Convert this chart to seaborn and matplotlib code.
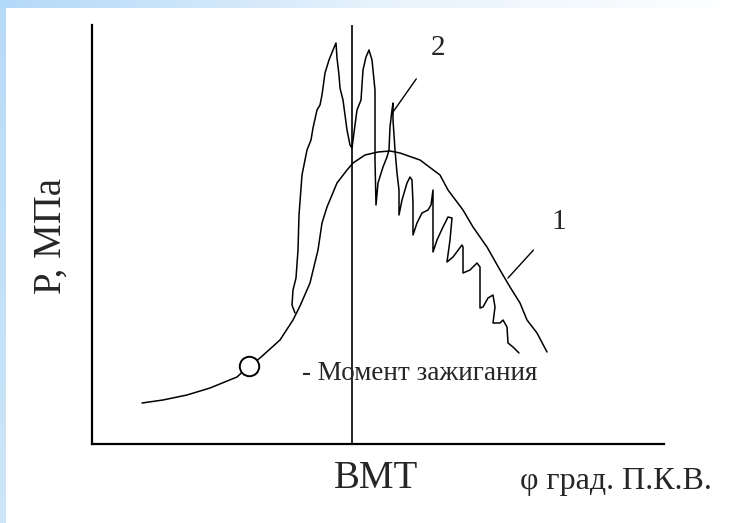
import matplotlib
matplotlib.use('Agg')
import matplotlib.pyplot as plt
import seaborn as sns
import numpy as np
import pandas as pd

# crank angle, deg from BMT / pressure, MPa
# curve 1 - normal combustion
angle_1 = [-42.0, -37.8, -33.0, -28.4, -23.0, -20.6, -18.4, -14.4, -11.8, -10.4,
           -8.4, -6.8, -6.0, -5.0, -3.0, -1.0, 0.2, 2.6, 5.2, 7.6,
           9.6, 13.6, 17.6, 19.2, 22.2, 24.2, 27.0, 29.6, 31.6, 33.6,
           35.0, 37.0, 39.0]
press_1 = [0.82, 0.88, 0.98, 1.12, 1.34, 1.56, 1.72, 2.08, 2.48, 2.76,
           3.22, 3.88, 4.42, 4.74, 5.22, 5.48, 5.62, 5.78, 5.84, 5.86,
           5.82, 5.68, 5.38, 5.08, 4.68, 4.34, 3.94, 3.48, 3.14, 2.82,
           2.48, 2.22, 1.84]

# curve 2 - detonation
angle_2 = [-11.4, -12.0, -11.8, -11.2, -10.8, -10.6, -10.0, -9.0, -8.2, -7.8,
           -7.0, -6.4, -6.0, -5.4, -4.6, -3.8, -3.2, -3.0, -2.6, -2.4,
           -1.8, -1.4, -1.0, -0.4, 0.0, 0.6, 1.0, 1.8, 2.0, 2.2,
           2.8, 3.4, 4.0, 4.6, 4.6, 4.6, 4.8, 5.2, 6.2, 7.0,
           7.4, 7.6, 8.0, 8.2, 8.2, 8.6, 9.0, 9.4, 9.4, 10.0,
           11.0, 11.6, 12.0, 12.2, 12.2, 13.0, 14.0, 15.2, 15.8, 16.2,
           16.2, 16.2, 17.0, 18.2, 19.2, 20.0, 19.6, 19.0, 20.2, 22.0,
           22.2, 22.2, 23.6, 25.0, 25.6, 25.6, 26.2, 27.2, 28.2, 28.6,
           28.2, 29.6, 30.2, 31.0, 31.2, 32.2, 33.4]
press_2 = [2.62, 2.78, 3.08, 3.32, 3.88, 4.58, 5.38, 5.88, 6.08, 6.32,
           6.68, 6.78, 6.98, 7.42, 7.68, 7.88, 8.02, 7.72, 7.38, 7.12,
           6.88, 6.58, 6.28, 5.98, 5.92, 6.38, 6.68, 6.88, 7.18, 7.48,
           7.74, 7.88, 7.68, 7.08, 6.28, 5.68, 4.78, 5.22, 5.54, 5.74,
           5.88, 6.34, 6.68, 6.82, 6.48, 5.88, 5.42, 5.08, 4.58, 4.88,
           5.22, 5.34, 5.28, 4.82, 4.18, 4.42, 4.62, 4.68, 4.78, 5.08,
           4.48, 3.84, 4.08, 4.34, 4.54, 4.52, 4.08, 3.64, 3.74, 3.98,
           3.94, 3.42, 3.48, 3.62, 3.54, 2.72, 2.74, 2.92, 2.98, 2.74,
           2.42, 2.42, 2.48, 2.34, 2.02, 1.94, 1.82]

ignition = (-20.6, 1.56)

sns.set_style("white")
plt.rcParams['font.family'] = ['Liberation Serif', 'DejaVu Serif']

fig = plt.figure(figsize=(7.42, 5.23), dpi=100)
fig.patch.set_facecolor('white')

# blue frame of the slide
top = fig.add_axes([0, 1 - 8 / 523, 1, 8 / 523])
grad = np.linspace(0, 1, 256).reshape(1, -1)
top.imshow(grad, aspect='auto', cmap=matplotlib.colors.LinearSegmentedColormap.from_list(
    'band', ['#b3d9f8', '#e6f2fc', '#ffffff']))
top.axis('off')
left = fig.add_axes([0, 0, 6 / 742, 1 - 8 / 523])
left.imshow(grad.T[::-1], aspect='auto', cmap=matplotlib.colors.LinearSegmentedColormap.from_list(
    'band2', ['#cde6f9', '#b8dbf8']))
left.axis('off')

ax = fig.add_axes([92 / 742, 79 / 523, 572 / 742, 419 / 523])
ax.set_facecolor('white')

df1 = pd.DataFrame({'angle': angle_1, 'p': press_1})
df2 = pd.DataFrame({'angle': angle_2, 'p': press_2})
sns.lineplot(data=df1, x='angle', y='p', sort=False, estimator=None,
             color='black', lw=1.1, ax=ax)
sns.lineplot(data=df2, x='angle', y='p', sort=False, estimator=None,
             color='black', lw=1.1, ax=ax)
ax.plot(*ignition, 'o', ms=14, mfc='white', mec='black', mew=1.4)
ax.axvline(0, color='black', lw=1.2)

ax.annotate('2', xy=(8.2, 6.64), xytext=(17.2, 7.92), fontsize=21,
            ha='center', va='center',
            arrowprops=dict(arrowstyle='-', color='black', lw=1.0,
                            shrinkA=14, shrinkB=0))
ax.annotate('1', xy=(31.2, 3.32), xytext=(41.4, 4.44), fontsize=21,
            ha='center', va='center',
            arrowprops=dict(arrowstyle='-', color='black', lw=1.0,
                            shrinkA=16, shrinkB=0))
ax.text(-10, 1.40, '- Момент зажигания', fontsize=19.5, ha='left', va='center')

ax.set_xlim(-52, 62.4)
ax.set_ylim(0, 8.38)
ax.set_xticks([])
ax.set_yticks([])
ax.set_xlabel('')
ax.set_ylabel('')
sns.despine(ax=ax)
for s in ['left', 'bottom']:
    ax.spines[s].set_color('black')
    ax.spines[s].set_linewidth(1.6)

fig.text(51 / 742, 1 - 236 / 523, 'Р, МПа', rotation=90, fontsize=28,
         ha='center', va='center')
fig.text(376 / 742, 1 - 478 / 523, 'ВМТ', fontsize=28, ha='center', va='center')
fig.text(520 / 742, 1 - 481 / 523, 'φ град. П.К.В.', fontsize=23,
         ha='left', va='center')

fig.savefig('out.png', dpi=100)
